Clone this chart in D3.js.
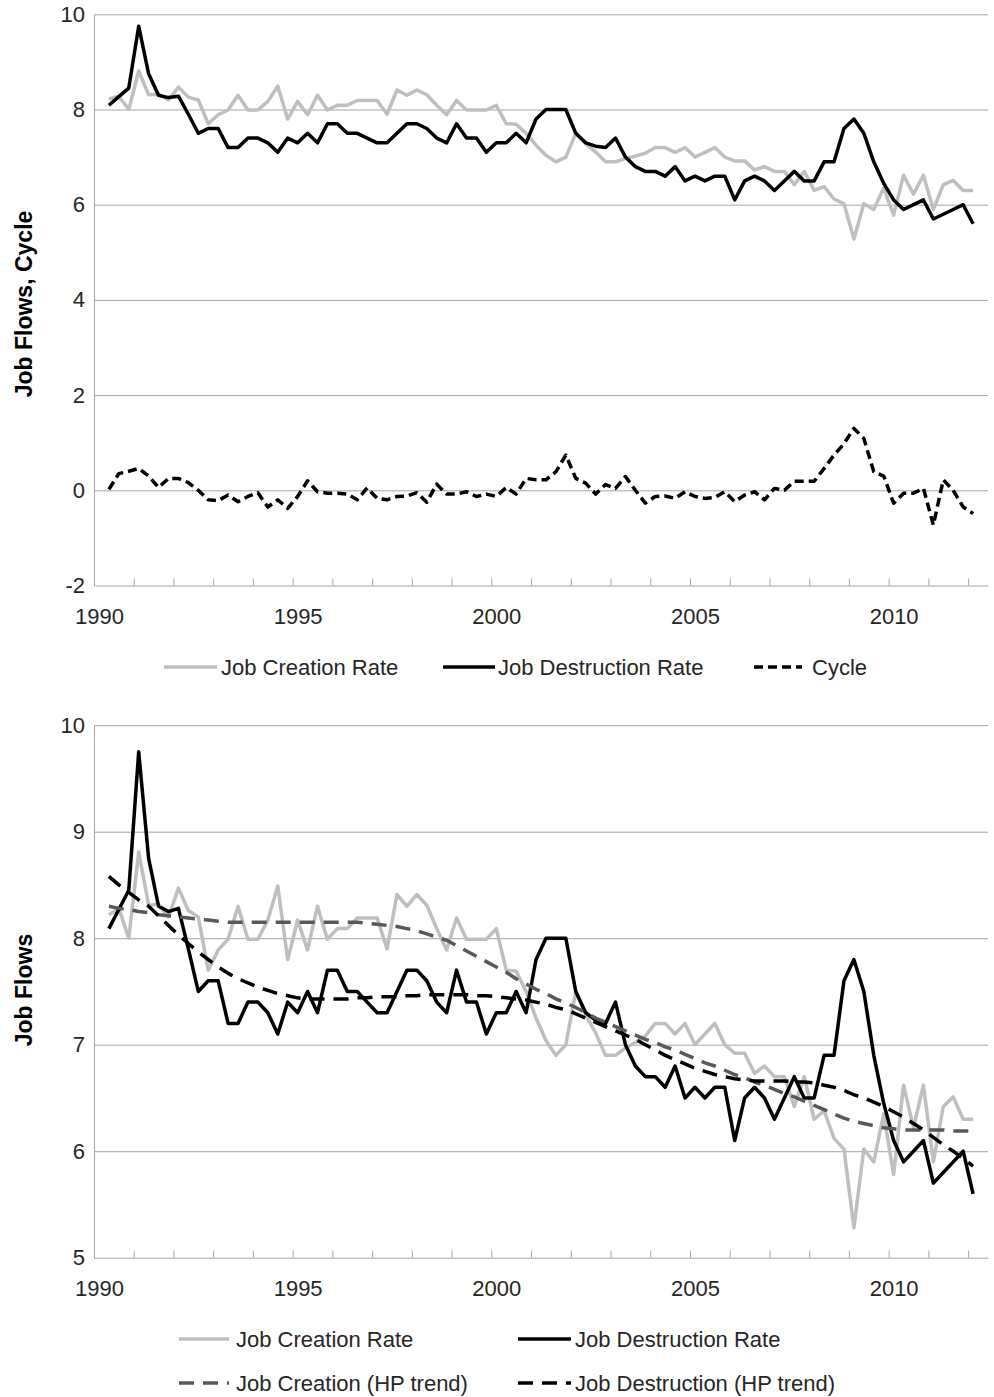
<!DOCTYPE html>
<html><head><meta charset="utf-8">
<script src="https://cdn.jsdelivr.net/npm/d3@7"></script>
<style>
body{margin:0;background:#fff}
text{font-family:"Liberation Sans",Arial,sans-serif}
</style>
</head><body>
<svg id="c" width="994" height="1397"></svg>
<script>
// ---- data ----
const yearLabels = ["1990","1995","2000","2005","2010"];
const labelCats = [0,20,40,60,80];
const nCats = 90;          // quarterly categories 1990Q1..2012Q2
const firstDataCat = 1;    // first observation in category 1
const topTicks = [-2,0,2,4,6,8,10];
const bottomTicks = [5,6,7,8,9,10];

const jobCreation = [
 8.22,8.28,8.00,8.81,8.31,8.32,8.20,8.47,8.26,8.20,
 7.70,7.89,7.99,8.30,7.99,7.99,8.17,8.49,7.80,8.17,
 7.89,8.30,7.99,8.09,8.09,8.19,8.19,8.19,7.90,8.41,
 8.30,8.41,8.31,8.09,7.89,8.19,7.99,7.99,7.99,8.09,
 7.70,7.69,7.50,7.25,7.04,6.90,7.00,7.50,7.28,7.11,
 6.90,6.90,6.97,7.02,7.08,7.20,7.20,7.10,7.20,7.00,
 7.10,7.20,7.00,6.92,6.92,6.73,6.80,6.70,6.70,6.42,
 6.70,6.30,6.38,6.12,6.02,5.28,6.02,5.90,6.35,5.78,
 6.62,6.22,6.62,5.90,6.42,6.51,6.30,6.30];
const jobDestruction = [
 8.09,8.27,8.45,9.75,8.75,8.30,8.25,8.28,7.90,7.50,
 7.60,7.60,7.20,7.20,7.40,7.40,7.30,7.10,7.40,7.30,
 7.50,7.30,7.70,7.70,7.50,7.50,7.40,7.30,7.30,7.50,
 7.70,7.70,7.60,7.40,7.30,7.70,7.40,7.40,7.10,7.30,
 7.30,7.50,7.30,7.80,8.00,8.00,8.00,7.50,7.30,7.23,
 7.20,7.40,7.00,6.80,6.70,6.70,6.60,6.80,6.50,6.60,
 6.50,6.60,6.60,6.10,6.50,6.60,6.50,6.30,6.50,6.70,
 6.50,6.50,6.90,6.90,7.60,7.80,7.50,6.90,6.45,6.10,
 5.90,6.00,6.10,5.70,5.80,5.90,6.00,5.60];
const cycle = [
 0.02,0.35,0.40,0.46,0.30,0.06,0.25,0.25,0.16,0.00,
 -0.20,-0.22,-0.10,-0.24,-0.13,-0.05,-0.35,-0.20,-0.38,-0.13,
 0.20,-0.03,-0.06,-0.06,-0.08,-0.20,0.05,-0.17,-0.20,-0.13,
 -0.12,-0.05,-0.25,0.13,-0.08,-0.08,-0.03,-0.13,-0.08,-0.13,
 0.06,-0.08,0.25,0.22,0.22,0.39,0.74,0.25,0.15,-0.08,
 0.12,0.04,0.29,0.00,-0.27,-0.13,-0.12,-0.17,-0.03,-0.13,
 -0.17,-0.15,-0.03,-0.24,-0.10,-0.03,-0.20,0.04,0.00,0.19,
 0.19,0.19,0.46,0.74,0.98,1.30,1.09,0.39,0.30,-0.27,
 -0.06,-0.06,0.04,-0.73,0.22,0.00,-0.35,-0.49];
const jcTrend = [
 8.30,8.28,8.27,8.25,8.24,8.22,8.21,8.20,8.19,8.18,
 8.17,8.16,8.15,8.15,8.15,8.15,8.15,8.15,8.15,8.15,
 8.15,8.15,8.15,8.15,8.15,8.15,8.14,8.13,8.12,8.11,
 8.09,8.07,8.04,8.01,7.98,7.93,7.88,7.83,7.78,7.73,
 7.68,7.62,7.57,7.52,7.48,7.43,7.39,7.35,7.30,7.25,
 7.21,7.17,7.13,7.09,7.05,7.02,6.98,6.95,6.91,6.87,
 6.83,6.80,6.76,6.72,6.69,6.65,6.62,6.58,6.54,6.51,
 6.47,6.43,6.39,6.35,6.31,6.28,6.26,6.24,6.22,6.21,
 6.20,6.20,6.20,6.20,6.20,6.19,6.19,6.19];
const jdTrend = [
 8.58,8.50,8.43,8.36,8.30,8.21,8.12,8.03,7.95,7.87,
 7.80,7.73,7.67,7.62,7.58,7.54,7.51,7.48,7.46,7.44,
 7.43,7.43,7.43,7.43,7.43,7.44,7.44,7.45,7.45,7.45,
 7.46,7.46,7.47,7.47,7.47,7.47,7.47,7.46,7.46,7.45,
 7.44,7.43,7.42,7.40,7.38,7.35,7.33,7.29,7.25,7.21,
 7.17,7.13,7.09,7.05,7.00,6.95,6.90,6.86,6.82,6.78,
 6.75,6.72,6.70,6.68,6.67,6.66,6.66,6.66,6.66,6.65,
 6.65,6.64,6.62,6.60,6.57,6.53,6.50,6.46,6.42,6.37,
 6.32,6.26,6.20,6.13,6.06,6.00,5.93,5.86];

// ---- drawing ----
const svg = d3.select("#c");
svg.append("rect").attr("width",994).attr("height",1397).attr("fill","#fff");
const X0 = 94, X1 = 988;
const x = d3.scaleLinear().domain([0,nCats]).range([X0,X1]);
const cx = i => x(i + firstDataCat + 0.5);
const gridCol = "#a6a6a6";
const FS = 22;

function panel(y, ticks, title, titleY){
  const g = svg.append("g");
  const yMin = ticks[0];
  // gridlines
  const grid = g.append("g").attr("transform",`translate(${X0},0)`)
    .call(d3.axisLeft(y).tickValues(ticks.slice(1)).tickSize(-(X1-X0)).tickFormat(""));
  grid.select(".domain").remove();
  grid.selectAll("line").attr("stroke",gridCol).attr("stroke-width",1);
  // y labels
  const ya = g.append("g").attr("transform",`translate(${X0},0)`)
    .call(d3.axisLeft(y).tickValues(ticks).tickSize(0).tickPadding(9).tickFormat(d => String(d)));
  ya.select(".domain").attr("stroke",gridCol);
  ya.selectAll("text").attr("font-size",FS).attr("fill","#262626")
    .style("font-family",'"Liberation Sans",Arial,sans-serif');
  // x ticks
  const xa = g.append("g").attr("transform",`translate(0,${y(yMin)})`)
    .call(d3.axisBottom(x).tickValues(d3.range(0,89,4)).tickSize(-7).tickSizeOuter(0).tickFormat(""));
  xa.select(".domain").attr("stroke",gridCol);
  xa.selectAll("line").attr("stroke",gridCol);
  const xl = g.append("g").attr("transform",`translate(0,${y(yMin)})`)
    .call(d3.axisBottom(x).tickValues(labelCats.map(c=>c+0.5)).tickSize(0).tickPadding(23)
      .tickFormat((d,i)=>yearLabels[i]));
  xl.select(".domain").remove();
  xl.selectAll("text").attr("font-size",FS).attr("fill","#262626")
    .style("font-family",'"Liberation Sans",Arial,sans-serif');
  // title
  g.append("text").attr("transform",`translate(24,${titleY}) rotate(-90)`)
    .attr("text-anchor","middle").attr("dominant-baseline","central")
    .attr("font-size",23).attr("font-weight","bold").attr("fill","#000").text(title);
  return g;
}

function drawLine(g, y, vals, color, width, dash){
  const line = d3.line().x((d,i)=>cx(i)).y(d=>y(d));
  g.append("path").datum(vals).attr("d",line).attr("fill","none")
    .attr("stroke",color).attr("stroke-width",width)
    .attr("stroke-linejoin","round").attr("stroke-dasharray",dash||null);
}

function legendItem(xs, yy, color, dash, label, textX){
  svg.append("line").attr("x1",xs[0]).attr("x2",xs[1]).attr("y1",yy).attr("y2",yy)
    .attr("stroke",color).attr("stroke-width",3.5).attr("stroke-dasharray",dash||null);
  svg.append("text").attr("x",textX).attr("y",yy).attr("dominant-baseline","central")
    .attr("font-size",FS).attr("fill","#262626").text(label);
}

// top panel
const yTop = d3.scaleLinear().domain([-2,10]).range([585.5,14.3]);
const gTop = panel(yTop, topTicks, "Job Flows, Cycle", 304);
drawLine(gTop, yTop, jobCreation, "#bfbfbf", 3.5);
drawLine(gTop, yTop, jobDestruction, "#000", 3.5);
drawLine(gTop, yTop, cycle, "#000", 3.5, "9,5");

legendItem([164,217], 667, "#bfbfbf", null, "Job Creation Rate", 221);
legendItem([443,495], 667, "#000", null, "Job Destruction Rate", 498);
legendItem([754,802], 667, "#000", "9,5", "Cycle", 812);

// bottom panel
const yBot = d3.scaleLinear().domain([5,10]).range([1257.7,725.2]);
const gBot = panel(yBot, bottomTicks, "Job Flows", 990);
drawLine(gBot, yBot, jobCreation, "#bfbfbf", 3.5);
drawLine(gBot, yBot, jobDestruction, "#000", 3.5);
drawLine(gBot, yBot, jcTrend, "#595959", 3.5, "15,9");
drawLine(gBot, yBot, jdTrend, "#000", 3.5, "15,9");

legendItem([179,229], 1339, "#bfbfbf", null, "Job Creation Rate", 236);
legendItem([518,571], 1339, "#000", null, "Job Destruction Rate", 575);
legendItem([179,229], 1383, "#595959", "15,9", "Job Creation (HP trend)", 236);
legendItem([518,571], 1383, "#000", "15,9", "Job Destruction (HP trend)", 575);
</script>
</body></html>
